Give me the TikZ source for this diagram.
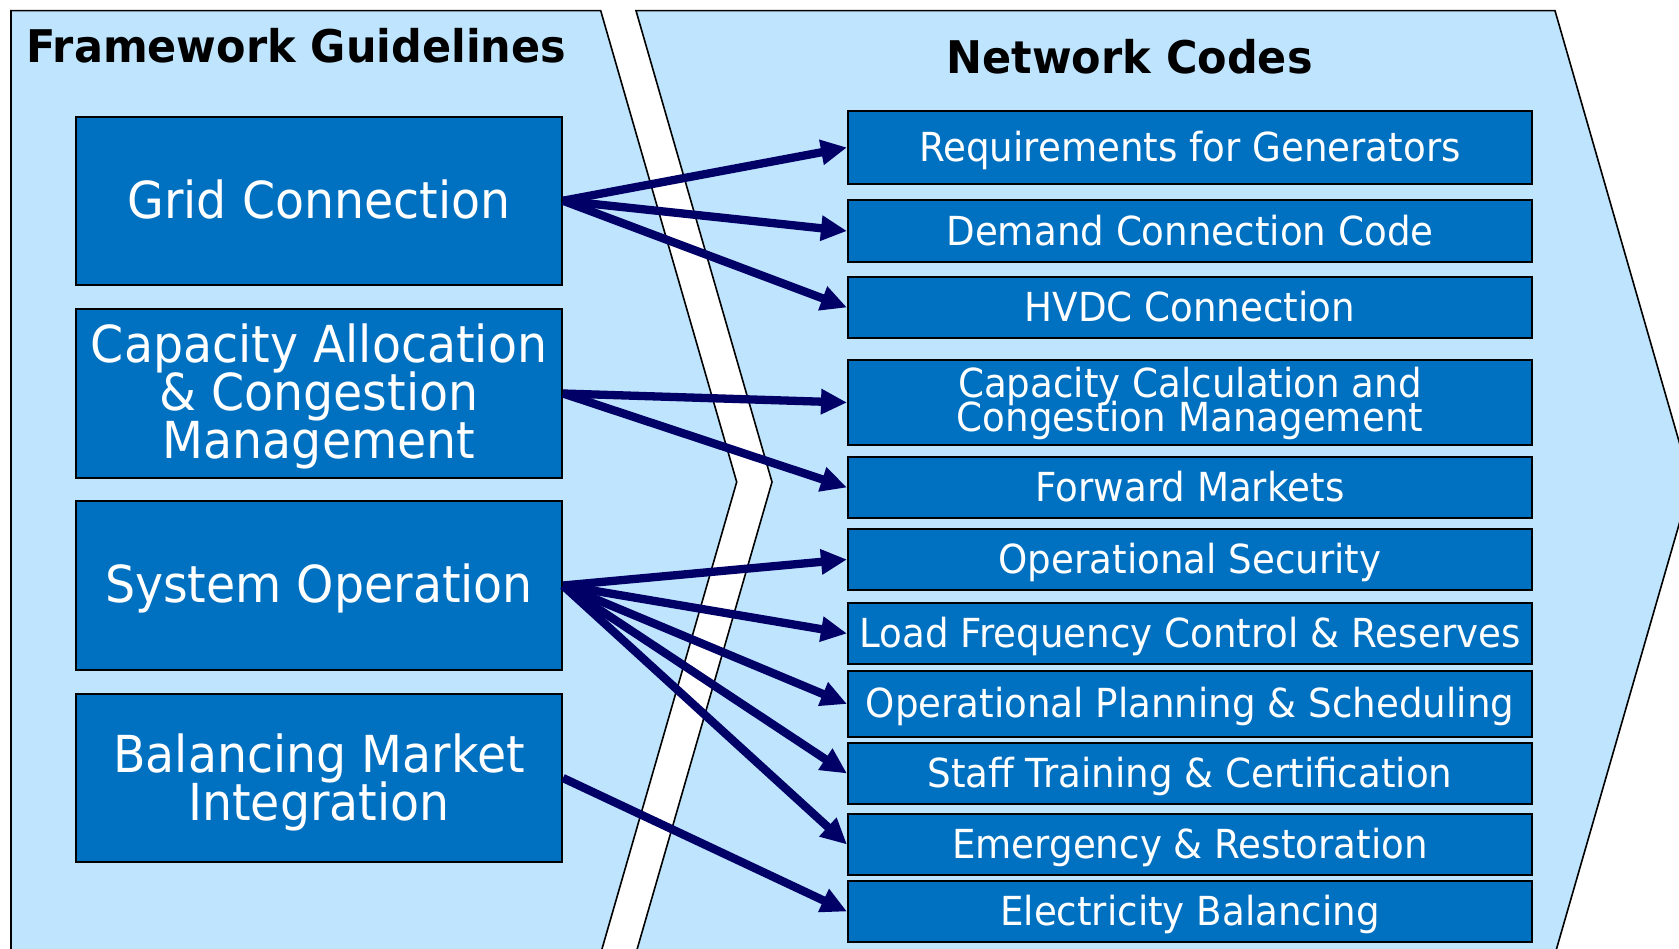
\documentclass[tikz,border=0pt]{standalone}
\usepackage{fontspec}
\setmainfont{DejaVu Sans}
\newfontfamily\bodyfont{DejaVu Sans}[FakeStretch=0.93]
\newfontfamily\titlefont{DejaVu Sans Bold}[FakeStretch=0.955]
\usetikzlibrary{arrows.meta}
\definecolor{panelblue}{HTML}{BFE4FD}
\definecolor{boxblue}{HTML}{0070C0}
\definecolor{arrownavy}{HTML}{000066}
\newcommand\tightlines{\lineskiplimit=-100pt\relax}
% lower a line of text without changing the size it reports
\newcommand\lw[2][3.2pt]{\raisebox{-#1}[\height][\depth]{#2}}
\begin{document}
\begin{tikzpicture}[x=1pt,y=-1pt,
 lbox/.style={draw=black, line width=2pt, fill=boxblue, text=white, minimum width=486pt, align=center, font=\bodyfont\fontsize{51}{48}\selectfont\tightlines, inner sep=0pt},
 rbox/.style={draw=black, line width=2pt, fill=boxblue, text=white, minimum width=684pt, align=center, font=\bodyfont\fontsize{40}{34.5}\selectfont\tightlines, inner sep=0pt},
 link/.style={draw=arrownavy, line width=8.3pt, -{Triangle[length=26pt,width=24pt]}},
 panel/.style={fill=panelblue, draw=black, line width=1.6pt},
 ttl/.style={font=\titlefont\fontsize{45}{50}\selectfont, inner sep=0pt}
]
\useasboundingbox (0,0) rectangle (1679,949);
\begin{scope}
\clip (0,0) rectangle (1679,949);
\path[panel] (11,10.7) -- (600.7,10.7) -- (736.7,482) -- (598.8,960) -- (11,960) -- cycle;
\path[panel] (636,10.7) -- (1555,10.7) -- (1691,483) -- (1553.3,960) -- (634,960) -- (772,482) -- cycle;
\end{scope}
\node[ttl, anchor=base west] (fg) at (26,63) {Framework Guidelines};
\node[ttl, anchor=base] (nc) at (1129.5,74) {Network Codes};

\node[lbox, minimum height=168pt] (gc) at (319,200.75) {\lw[-1pt]{Grid Connection}};
\node[lbox, minimum height=168pt] (ca) at (319,393.5) {\lw{Capacity Allocation}\\ \lw{\& Congestion}\\ \lw{Management}};
\node[lbox, minimum height=169pt] (so) at (319,585.5) {\lw{System Operation}};
\node[lbox, minimum height=168pt] (bm) at (319,778) {\lw[4.8pt]{Balancing Market}\\ \lw[4.8pt]{Integration}};

\node[rbox, minimum height=73pt] (r1) at (1190,147.5) {\lw{Requirements for Generators}};
\node[rbox, minimum height=62pt] (r2) at (1190,231) {Demand Connection Code};
\node[rbox, minimum height=61pt] (r3) at (1190,307.5) {\lw[-1pt]{HVDC Connection}};
\node[rbox, minimum height=85pt] (r4) at (1190,402.5) {\lw[1pt]{Capacity Calculation and}\\ \lw[1pt]{Congestion Management}};
\node[rbox, minimum height=61pt] (r5) at (1190,487.5) {\lw[-1pt]{Forward Markets}};
\node[rbox, minimum height=61pt] (r6) at (1190,559.5) {\lw{Operational Security}};
\node[rbox, minimum height=61pt] (r7) at (1190,633.5) {\lw{Load Frequency Control \& Reserves}};
\node[rbox, minimum height=66pt] (r8) at (1190,704) {\lw[2.1pt]{Operational Planning \& Scheduling}};
\node[rbox, minimum height=61pt] (r9) at (1190,773.5) {\lw{Staff Training \& Certification}};
\node[rbox, minimum height=61pt] (r10) at (1190,844.5) {\lw{Emergency \& Restoration}};
\node[rbox, minimum height=61pt] (r11) at (1190,911.5) {\lw{Electricity Balancing}};

\draw[link] (gc.east) -- (r1.west);
\draw[link] (gc.east) -- (r2.west);
\draw[link] (gc.east) -- (r3.west);
\draw[link] (ca.east) -- (r4.west);
\draw[link] (ca.east) -- (r5.west);
\draw[link] (so.east) -- (r6.west);
\draw[link] (so.east) -- (r7.west);
\draw[link] (so.east) -- (r8.west);
\draw[link] (so.east) -- (r9.west);
\draw[link] (so.east) -- (r10.west);
\draw[link] (bm.east) -- (r11.west);
\end{tikzpicture}
\end{document}
